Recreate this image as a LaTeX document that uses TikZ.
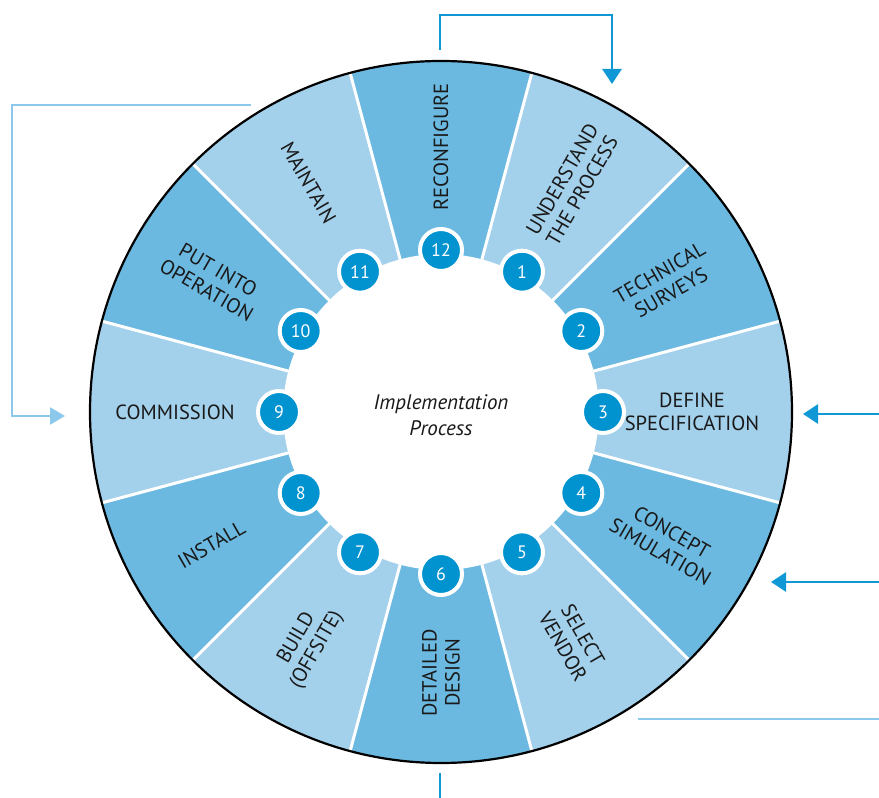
\documentclass[tikz,border=0pt]{standalone}
\usepackage{fontspec}
\setmainfont{PT Sans}
\usetikzlibrary{arrows.meta}

\definecolor{segdark}{RGB}{107,185,224}
\definecolor{seglight}{RGB}{163,208,235}
\definecolor{badgeblue}{RGB}{0,147,208}
\definecolor{linedark}{RGB}{16,152,214}
\definecolor{linelight}{RGB}{140,200,235}

\tikzset{
  wedge/.style={fill=segdark},
  disc/.style={fill=seglight},
  divider/.style={draw=white, line width=3pt},
  rim/.style={draw=black, line width=2.2pt},
  hub/.style={fill=white},
  seglabel/.style={
    align=center, inner sep=0pt,
    text=black!90,
    font=\fontsize{20.5}{23}\selectfont
  },
  coretext/.style={
    align=center, inner sep=0pt,
    text=black!90,
    font=\fontsize{21}{26}\selectfont\itshape
  },
  badge/.style={
    circle, fill=badgeblue,
    draw=white, line width=4pt,
    minimum size=42pt, inner sep=0pt,
    text=white, font=\fontsize{18}{18}\selectfont
  },
  flow/.style={line width=2.6pt, draw=linedark, -{Triangle[length=15pt, width=19pt]}},
  feed/.style={line width=2.6pt, draw=linelight, -{Triangle[length=15pt, width=17pt]}},
  plain/.style={line width=2.6pt}
}

\begin{document}
\begin{tikzpicture}[x=1pt, y=1pt]
\useasboundingbox (0,0) rectangle (879,798);

% ==============================================================================
% Wheel
% ==============================================================================
\begin{scope}[shift={(441,386)}]

\fill[disc] (0,0) circle[radius=351];

\fill[wedge]
  (0,0) -- (75:351)   arc[start angle=75,   end angle=105,  radius=351] -- cycle
  (0,0) -- (15:351)   arc[start angle=15,   end angle=45,   radius=351] -- cycle
  (0,0) -- (-45:351)  arc[start angle=-45,  end angle=-15,  radius=351] -- cycle
  (0,0) -- (-105:351) arc[start angle=-105, end angle=-75,  radius=351] -- cycle
  (0,0) -- (-165:351) arc[start angle=-165, end angle=-135, radius=351] -- cycle
  (0,0) -- (135:351)  arc[start angle=135,  end angle=165,  radius=351] -- cycle;

\draw[divider]
  (0,0) -- (15:351)  (0,0) -- (45:351)  (0,0) -- (75:351)
  (0,0) -- (105:351) (0,0) -- (135:351) (0,0) -- (165:351)
  (0,0) -- (195:351) (0,0) -- (225:351) (0,0) -- (255:351)
  (0,0) -- (285:351) (0,0) -- (315:351) (0,0) -- (345:351);

\draw[rim] (0,0) circle[radius=351];

\fill[hub] (0,0) circle[radius=158];

\node[coretext] (core) at (0,-3) {Implementation\\Process};

% ==============================================================================
% Steps
% ==============================================================================
\node[seglabel, rotate=60] (s1) at (60:262) {UNDERSTAND\\THE PROCESS};
\node[seglabel, rotate=30] (s2) at (30:259) {TECHNICAL\\SURVEYS};
\node[seglabel] (s3) at (0:251) {DEFINE\\SPECIFICATION};
\node[seglabel, rotate=-30] (s4) at (-30:260) {CONCEPT\\SIMULATION};
\node[seglabel, rotate=-60] (s5) at (-60:264) {SELECT\\VENDOR};
\node[seglabel, rotate=90] (s6) at (-90:261) {DETAILED\\DESIGN};
\node[seglabel, rotate=60] (s7) at (-120:268) {BUILD\\(OFFSITE)};
\node[seglabel, rotate=30] (s8) at (-150:265) {INSTALL};
\node[seglabel] (s9) at (180:266) {COMMISSION};
\node[seglabel, rotate=-30] (s10) at (150:264) {PUT INTO\\OPERATION};
\node[seglabel, rotate=-60] (s11) at (120:265) {MAINTAIN};
\node[seglabel, rotate=90] (s12) at (90:265) {RECONFIGURE};

% ==============================================================================
% Badges
% ==============================================================================
\node[badge] (n1) at (60:162) {1};
\node[badge] (n2) at (30:162) {2};
\node[badge] (n3) at (0:162) {3};
\node[badge] (n4) at (-30:162) {4};
\node[badge] (n5) at (-60:162) {5};
\node[badge] (n6) at (-90:162) {6};
\node[badge] (n7) at (-120:162) {7};
\node[badge] (n8) at (-150:162) {8};
\node[badge] (n9) at (180:162) {9};
\node[badge] (n10) at (150:162) {10};
\node[badge] (n11) at (120:162) {11};
\node[badge] (n12) at (90:162) {12};

\end{scope}

% ==============================================================================
% Arrows
% ==============================================================================
\coordinate (loopstart) at (440,748);
\coordinate (loopup) at (440,783);
\coordinate (loopover) at (612,783);
\coordinate (loopend) at (612,714);

\coordinate (backstart) at (251,693);
\coordinate (backtop) at (12,693);
\coordinate (backdown) at (12,382);
\coordinate (backend) at (65,382);

\coordinate (inA) at (879,384);
\coordinate (inAend) at (803,384);
\coordinate (inB) at (879,216);
\coordinate (inBend) at (771,216);

\coordinate (outstart) at (638,79);
\coordinate (outend) at (879,79);
\coordinate (tailstart) at (440,25);
\coordinate (tailend) at (440,0);

\draw[flow] (loopstart) -- (loopup) -- (loopover) -- (loopend);
\draw[feed] (backstart) -- (backtop) -- (backdown) -- (backend);
\draw[flow] (inA) -- (inAend);
\draw[flow] (inB) -- (inBend);
\draw[plain, draw=linelight] (outstart) -- (outend);
\draw[plain, draw=linedark] (tailstart) -- (tailend);

\end{tikzpicture}
\end{document}
